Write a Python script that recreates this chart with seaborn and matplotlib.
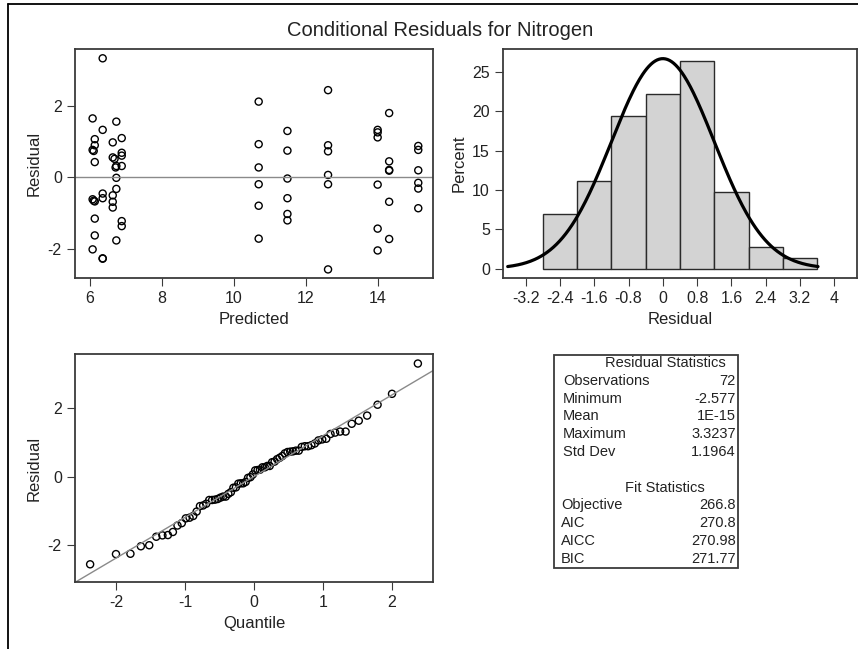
import numpy as np
import pandas as pd
import matplotlib
matplotlib.use("Agg")
import matplotlib.pyplot as plt
import seaborn as sns
from matplotlib.lines import Line2D
from matplotlib.patches import Rectangle
from statistics import NormalDist

# predicted values and conditional residuals
predicted = [6.07] * 4 + [6.10] * 2 + [6.13] * 6 + [6.35] * 6 + [6.63] * 5 + [6.68, 6.71] \
    + [6.73] * 5 + [6.88] * 6 + [10.69] * 6 + [11.49] * 6 + [12.62] * 6 + [14.00] * 6 \
    + [14.32] * 6 + [15.13] * 6
residual = [1.64, 0.76, -0.62, -2.02,
            0.73, -0.66,
            1.06, 0.89, 0.42, -0.68, -1.16, -1.63,
            3.32, 1.32, -0.46, -0.59, -2.28, -2.27,
            0.97, 0.55, -0.51, -0.69, -0.85,
            0.51, 0.27,
            1.55, 0.31, -0.02, -0.33, -1.77,
            1.09, 0.68, 0.60, 0.31, -1.23, -1.37,
            2.11, 0.92, 0.27, -0.20, -0.80, -1.72,
            1.29, 0.74, -0.04, -0.59, -1.03, -1.21,
            2.43, 0.89, 0.72, 0.06, -0.20, -2.58,
            1.32, 1.25, 1.11, -0.21, -1.44, -2.05,
            1.79, 0.44, 0.20, 0.18, -0.69, -1.73,
            0.87, 0.76, 0.19, -0.16, -0.32, -0.87]

bin_edges = [-2.8, -2.0, -1.2, -0.4, 0.4, 1.2, 2.0, 2.8, 3.6]
hist_xticks = [-3.2, -2.4, -1.6, -0.8, 0, 0.8, 1.6, 2.4, 3.2, 4]
hist_xlabels = ["-3.2", "-2.4", "-1.6", "-0.8", "0", "0.8", "1.6", "2.4", "3.2", "4"]

res_stat_names = ["Observations", "Minimum", "Mean", "Maximum", "Std Dev"]
res_stat_values = ["72", "-2.577", "1E-15", "3.3237", "1.1964"]
fit_stat_names = ["Objective", "AIC", "AICC", "BIC"]
fit_stat_values = ["266.8", "270.8", "270.98", "271.77"]
MEAN = 0.0
STD = 1.1964

df = pd.DataFrame({"Predicted": predicted, "Residual": residual})
n = len(df)
srt = np.sort(df["Residual"].values)
nd = NormalDist()
qq = pd.DataFrame({"Quantile": [nd.inv_cdf((i + 1 - 0.375) / (n + 0.25)) for i in range(n)],
                   "Residual": srt})

sns.set_style("ticks")
plt.rcParams["font.family"] = ["Liberation Sans", "DejaVu Sans"]
FRAME = "#3a3a3a"
TXT = "#222222"
plt.rcParams.update({
    "axes.unicode_minus": False,
    "axes.edgecolor": FRAME, "axes.linewidth": 1.3,
    "xtick.color": FRAME, "ytick.color": FRAME,
    "xtick.labelcolor": TXT, "ytick.labelcolor": TXT,
    "xtick.major.size": 6, "ytick.major.size": 6,
    "xtick.labelsize": 11.5, "ytick.labelsize": 11.5,
    "axes.labelsize": 12, "axes.labelcolor": TXT,
})

W, H = 858, 649
fig = plt.figure(figsize=(W / 100, H / 100), dpi=100)


def px_axes(l, t, r, b):
    return fig.add_axes([l / W, 1 - b / H, (r - l) / W, (b - t) / H])


mk = dict(marker="o", s=26, facecolor="none", edgecolor="black", linewidth=1.0)

# residual vs predicted
ax1 = px_axes(75, 49, 433, 278)
ax1.axhline(0, color="#8a8a8a", lw=1)
sns.scatterplot(data=df, x="Predicted", y="Residual", ax=ax1, **mk)
ax1.set_xlim(5.58, 15.54)
ax1.set_ylim(-2.82, 3.58)
ax1.set_xticks([6, 8, 10, 12, 14])
ax1.set_yticks([-2, 0, 2])

# histogram
ax2 = px_axes(503, 49, 857, 278)
sns.histplot(data=df, x="Residual", bins=bin_edges, stat="percent", ax=ax2,
             color="#d3d3d3", edgecolor="#2a2a2a", linewidth=1, alpha=1)
xs = np.linspace(-3.62, 3.62, 300)
dens = 100 * 0.8 * np.exp(-0.5 * ((xs - MEAN) / STD) ** 2) / (STD * np.sqrt(2 * np.pi))
sns.lineplot(x=xs, y=dens, ax=ax2, color="black", lw=2.3)
ax2.set_xlim(-3.73, 4.53)
ax2.set_ylim(-1.18, 27.9)
ax2.set_xticks(hist_xticks)
ax2.set_xticklabels(hist_xlabels)
ax2.set_yticks([0, 5, 10, 15, 20, 25])
ax2.set_ylabel("Percent")

# QQ plot
ax3 = px_axes(75, 354, 433, 582)
ax3.axline((0, MEAN), slope=STD, color="#8a8a8a", lw=1)
sns.scatterplot(data=qq, x="Quantile", y="Residual", ax=ax3, **mk)
ax3.set_xlim(-2.6, 2.6)
ax3.set_ylim(-3.1, 3.6)
ax3.set_xticks([-2, -1, 0, 1, 2])
ax3.set_yticks([-2, 0, 2])

for ax in (ax1, ax2, ax3):
    for s in ax.spines.values():
        s.set_visible(True)

# statistics table
tab_l, tab_r, tab_t, tab_b = 554, 738, 355, 568
fig.add_artist(Rectangle((tab_l / W, 1 - tab_b / H), (tab_r - tab_l) / W, (tab_b - tab_t) / H,
                         transform=fig.transFigure, fill=False, edgecolor=FRAME, lw=1.3))
row_h = 17.8
fs = 10.5
y0 = 363
fig.text(665 / W, 1 - y0 / H, "Residual Statistics", ha="center", va="center", fontsize=fs, color=TXT)
for i, (nm, v) in enumerate(zip(res_stat_names, res_stat_values)):
    y = y0 + (i + 1) * row_h
    fig.text(563 / W, 1 - y / H, nm, ha="left", va="center", fontsize=fs, color=TXT)
    fig.text(736 / W, 1 - y / H, v, ha="right", va="center", fontsize=fs, color=TXT)
y1 = y0 + 7 * row_h
fig.text(665 / W, 1 - y1 / H, "Fit Statistics", ha="center", va="center", fontsize=fs, color=TXT)
for i, (nm, v) in enumerate(zip(fit_stat_names, fit_stat_values)):
    y = y1 + (i + 1) * row_h
    fig.text(561 / W, 1 - y / H, nm, ha="left", va="center", fontsize=fs, color=TXT)
    fig.text(736 / W, 1 - y / H, v, ha="right", va="center", fontsize=fs, color=TXT)

fig.suptitle("Conditional Residuals for Nitrogen", x=440 / W, y=1 - 30 / H,
             va="center", fontsize=14.5, color=TXT)

# outer frame (cut off at right and bottom)
fig.add_artist(Line2D([8 / W, 8 / W], [-0.1, 1 - 4 / H], transform=fig.transFigure, color="black", lw=1.3))
fig.add_artist(Line2D([8 / W, 1.1], [1 - 4 / H, 1 - 4 / H], transform=fig.transFigure, color="black", lw=1.3))

fig.savefig("out.png", dpi=100)
